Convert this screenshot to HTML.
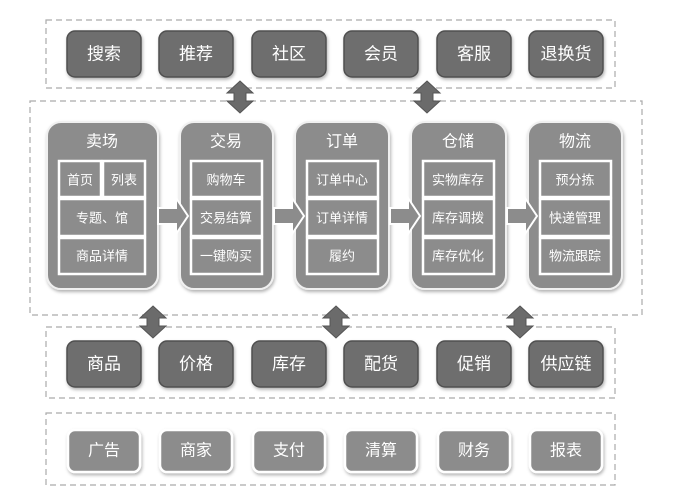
<!DOCTYPE html>
<html><head><meta charset="utf-8"><style>
html,body{margin:0;padding:0;background:#fff;width:675px;height:502px;overflow:hidden}
text{font-family:"Liberation Sans","Noto Sans CJK SC",sans-serif;fill:#fff;text-anchor:middle;dominant-baseline:central}
</style></head><body>
<svg width="675" height="502" viewBox="0 0 675 502" xmlns="http://www.w3.org/2000/svg">
<defs>
<filter id="sh" x="-10%" y="-10%" width="130%" height="130%"><feDropShadow dx="1" dy="2" stdDeviation="1.5" flood-color="#000" flood-opacity="0.3"/></filter>
<g id="va"><polygon points="0,-16 13,-4 6,-4 6,4 13,4 0,16 -13,4 -6,4 -6,-4 -13,-4" fill="#6b6b6b" stroke="#555" stroke-width="1"/></g>
<g id="ha"><polygon points="-14,-8 4,-8 4,-18 16,0 4,18 4,8 -14,8" fill="#8c8c8c" stroke="#fff" stroke-width="2"/></g>
</defs>
<g fill="none" stroke="#aaa" stroke-width="1.2" stroke-dasharray="6,4">
<rect x="46" y="20" width="569" height="68"/>
<rect x="30" y="101" width="612" height="214"/>
<rect x="46" y="327" width="569" height="71"/>
<rect x="46" y="413" width="569" height="72"/>
</g>
<!-- top row -->
<g fill="#6e6e6e" stroke="#505050" stroke-width="1.5" filter="url(#sh)">
<rect x="67" y="31" width="74" height="46" rx="8"/><rect x="159" y="31" width="74" height="46" rx="8"/><rect x="252" y="31" width="74" height="46" rx="8"/><rect x="344" y="31" width="74" height="46" rx="8"/><rect x="437" y="31" width="74" height="46" rx="8"/><rect x="529" y="31" width="74" height="46" rx="8"/>
<rect x="67" y="341" width="74" height="46" rx="8"/><rect x="159" y="341" width="74" height="46" rx="8"/><rect x="252" y="341" width="74" height="46" rx="8"/><rect x="344" y="341" width="74" height="46" rx="8"/><rect x="437" y="341" width="74" height="46" rx="8"/><rect x="529" y="341" width="74" height="46" rx="8"/>
</g>
<g font-size="17">
<text x="104" y="54">搜索</text><text x="196" y="54">推荐</text><text x="289" y="54">社区</text><text x="381" y="54">会员</text><text x="474" y="54">客服</text><text x="566" y="54">退换货</text>
<text x="104" y="364">商品</text><text x="196" y="364">价格</text><text x="289" y="364">库存</text><text x="381" y="364">配货</text><text x="474" y="364">促销</text><text x="566" y="364">供应链</text>
</g>
<g fill="#8c8c8c" stroke="#fff" stroke-width="2.5" filter="url(#sh)">
<rect x="68" y="430" width="72" height="42" rx="7"/><rect x="160" y="430" width="72" height="42" rx="7"/><rect x="253" y="430" width="72" height="42" rx="7"/><rect x="345" y="430" width="72" height="42" rx="7"/><rect x="438" y="430" width="72" height="42" rx="7"/><rect x="530" y="430" width="72" height="42" rx="7"/>
</g>
<g font-size="16">
<text x="104" y="451">广告</text><text x="196" y="451">商家</text><text x="289" y="451">支付</text><text x="381" y="451">清算</text><text x="474" y="451">财务</text><text x="566" y="451">报表</text>
</g>
<!-- columns -->
<g fill="#8c8c8c" stroke="#f0f0f0" stroke-width="2" filter="url(#sh)">
<rect x="47" y="122" width="111" height="167" rx="14"/>
<rect x="180" y="122" width="93" height="167" rx="14"/>
<rect x="295" y="122" width="94" height="167" rx="14"/>
<rect x="411" y="122" width="95" height="167" rx="14"/>
<rect x="528" y="122" width="94" height="167" rx="14"/>
</g>
<g font-size="16">
<text x="102" y="142">卖场</text><text x="226" y="142">交易</text><text x="342" y="142">订单</text><text x="458" y="142">仓储</text><text x="575" y="142">物流</text>
</g>
<g fill="#8c8c8c" stroke="#fff" stroke-width="2.5">
<rect x="59" y="161" width="42" height="36"/><rect x="103" y="161" width="42" height="36"/>
<rect x="59" y="199" width="86" height="37"/><rect x="59" y="238" width="86" height="36"/>
<rect x="191" y="161" width="71" height="36"/><rect x="191" y="199" width="71" height="37"/><rect x="191" y="238" width="71" height="36"/>
<rect x="307" y="161" width="71" height="36"/><rect x="307" y="199" width="71" height="37"/><rect x="307" y="238" width="71" height="36"/>
<rect x="423" y="161" width="71" height="36"/><rect x="423" y="199" width="71" height="37"/><rect x="423" y="238" width="71" height="36"/>
<rect x="540" y="161" width="71" height="36"/><rect x="540" y="199" width="71" height="37"/><rect x="540" y="238" width="71" height="36"/>
</g>
<g font-size="13">
<text x="80" y="180">首页</text><text x="124" y="180">列表</text><text x="102" y="218">专题、馆</text><text x="102" y="256">商品详情</text>
<text x="226" y="180">购物车</text><text x="226" y="218">交易结算</text><text x="226" y="256">一键购买</text>
<text x="342" y="180">订单中心</text><text x="342" y="218">订单详情</text><text x="342" y="256">履约</text>
<text x="458" y="180">实物库存</text><text x="458" y="218">库存调拨</text><text x="458" y="256">库存优化</text>
<text x="575" y="180">预分拣</text><text x="575" y="218">快递管理</text><text x="575" y="256">物流跟踪</text>
</g>
<use href="#ha" x="172" y="216"/><use href="#ha" x="288" y="216"/><use href="#ha" x="404" y="216"/><use href="#ha" x="521" y="216"/>
<use href="#va" x="240" y="97"/><use href="#va" x="427" y="97"/>
<use href="#va" x="153" y="322"/><use href="#va" x="336" y="322"/><use href="#va" x="520" y="322"/>
</svg>
</body></html>
